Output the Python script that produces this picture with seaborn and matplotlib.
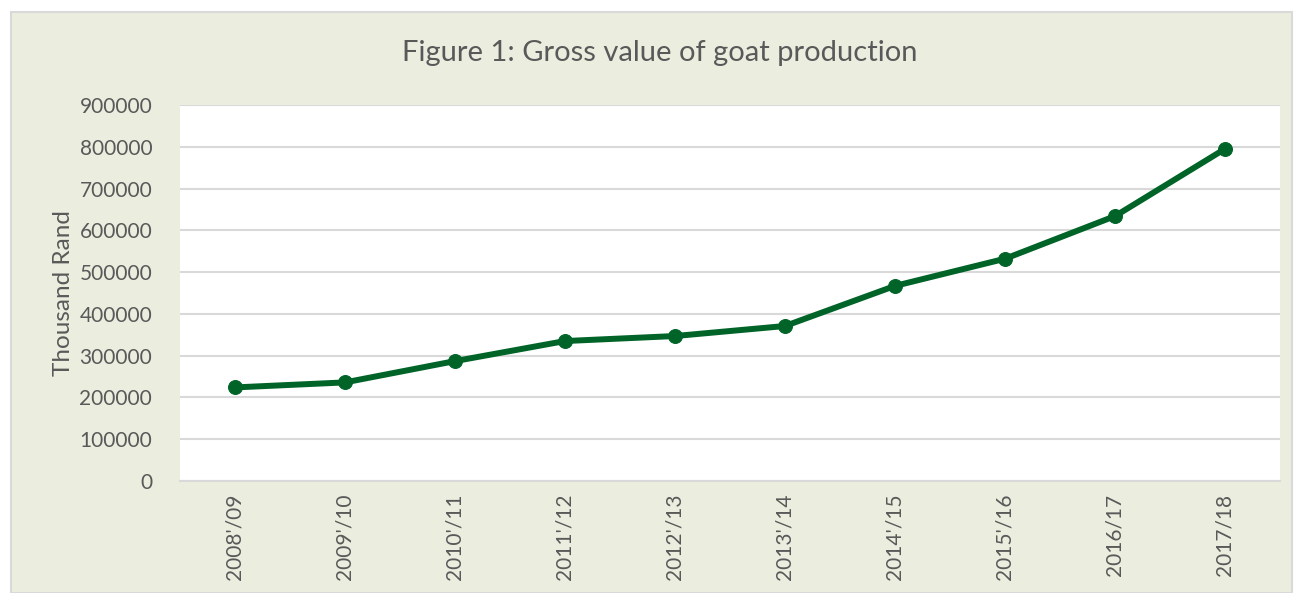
import pandas as pd
import seaborn as sns
import matplotlib.pyplot as plt
from matplotlib.patches import Rectangle

seasons = ["2008'/09", "2009'/10", "2010'/11", "2011'/12", "2012'/13",
           "2013'/14", "2014'/15", "2015'/16", "2016/17", "2017/18"]
gross_value = [224000, 236000, 287000, 335000, 347000,
               371000, 467000, 532000, 634000, 795000]

df = pd.DataFrame({"season": seasons, "value": gross_value})

sns.set_style("white")
plt.rcParams['font.family'] = ['Lato', 'DejaVu Sans']

bg = '#EBEEDF'
txt = '#595959'
green = '#006428'

fig = plt.figure(figsize=(12.96, 5.93), dpi=100)
fig.patch.set_facecolor('white')
fig.patches.append(Rectangle((11 / 1296, 0), 1 - 11 / 1296 - 4 / 1296, 1 - 12 / 593,
                             transform=fig.transFigure, facecolor=bg,
                             edgecolor='#D9D9D9', linewidth=1.5, zorder=-10))

ax = fig.add_axes([180 / 1296, 112 / 593, 1100 / 1296, 376 / 593])
ax.set_facecolor('white')

sns.lineplot(data=df, x="season", y="value", ax=ax, color=green, linewidth=4.3,
             marker='o', markersize=10, markeredgecolor=green, sort=False)

ax.set_xlim(-0.5, len(seasons) - 0.5)
ax.set_ylim(0, 900000)
ax.set_yticks(range(0, 900001, 100000))
ax.yaxis.grid(True, color='#D9D9D9', linewidth=1.5)
ax.set_axisbelow(True)
for s in ['top', 'right', 'left']:
    ax.spines[s].set_visible(False)
ax.spines['bottom'].set_color('#D9D9D9')
ax.spines['bottom'].set_linewidth(1.5)

ax.tick_params(axis='both', length=0, labelsize=15, colors=txt)
ax.tick_params(axis='y', pad=20)
ax.tick_params(axis='x', pad=9)
plt.setp(ax.get_xticklabels(), rotation=90)

ax.set_xlabel('')
ax.set_ylabel('Thousand Rand', fontsize=17.5, color=txt, labelpad=4)
fig.text(660 / 1296, 1 - 53 / 593, 'Figure 1: Gross value of goat production',
         ha='center', va='center', fontsize=21, color=txt)

plt.savefig('out.png', dpi=100, facecolor=fig.get_facecolor())
